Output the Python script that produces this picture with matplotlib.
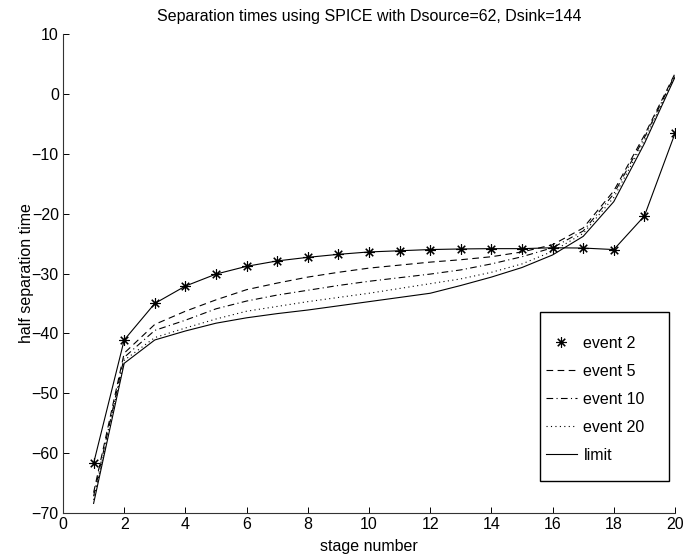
import matplotlib
matplotlib.use("Agg")
import matplotlib.pyplot as plt
from matplotlib.patches import Rectangle

plt.rcParams['font.family'] = ['Liberation Sans', 'DejaVu Sans']

stage = list(range(1, 21))
event2 = [-61.7, -41.1, -35.0, -32.1, -30.1, -28.8, -27.9, -27.3, -26.8, -26.4,
          -26.2, -26.0, -25.9, -25.85, -25.85, -25.7, -25.75, -26.0, -20.4, -6.6]
event5 = [-66.6, -43.3, -38.5, -36.3, -34.4, -32.7, -31.6, -30.6, -29.8, -29.1,
          -28.6, -28.1, -27.7, -27.2, -26.4, -25.2, -22.4, -16.2, -6.9, 3.4]
event10 = [-67.2, -44.0, -39.5, -37.8, -35.9, -34.6, -33.6, -32.8, -32.0, -31.3,
           -30.7, -30.1, -29.4, -28.4, -27.2, -25.7, -22.9, -16.7, -7.3, 3.2]
event20 = [-67.8, -44.5, -40.7, -39.1, -37.6, -36.3, -35.5, -34.7, -34.0, -33.3,
           -32.5, -31.7, -30.9, -29.8, -28.4, -26.3, -23.3, -17.3, -7.8, 3.0]
limit = [-68.4, -45.0, -41.1, -39.6, -38.3, -37.4, -36.7, -36.1, -35.4, -34.7,
         -34.0, -33.3, -32.0, -30.6, -29.0, -26.9, -23.8, -18.0, -8.3, 2.8]

xticks = list(range(0, 21, 2))
yticks = list(range(-70, 11, 10))

FS = 11.5
fig = plt.figure(figsize=(7.0, 5.59), dpi=100)
ax = fig.add_axes([63/700, 1-513/559, 612/700, 479/559])

lw = 0.8
ax.plot(stage, event2, color='black', lw=lw)
ax.plot(stage, event2, linestyle='none', marker=(8, 2, 0), markersize=7.5,
        markeredgewidth=0.8, color='black', label='event 2')
ax.plot(stage, event5, color='black', lw=lw, linestyle=(0, (6, 4)), label='event 5')
ax.plot(stage, event10, color='black', lw=lw, linestyle=(0, (6, 3, 1, 3)), label='event 10')
ax.plot(stage, event20, color='black', lw=lw, linestyle=(0, (1, 3)), label='event 20')
ax.plot(stage, limit, color='black', lw=lw, label='limit')

ax.set_xlim(0, 20)
ax.set_ylim(-70, 10)
ax.set_xticks(xticks)
ax.set_yticks(yticks)
ax.tick_params(direction='in', length=4, width=0.7, labelsize=FS, colors='black', pad=3)
ax.spines['top'].set_visible(False)
ax.spines['right'].set_visible(False)
for s in ('left', 'bottom'):
    ax.spines[s].set_linewidth(0.8)
    ax.spines[s].set_color('#333333')

ax.set_title('Separation times using SPICE with Dsource=62, Dsink=144', fontsize=FS, pad=9.5)
ax.set_xlabel('stage number', fontsize=FS, labelpad=5)
ax.set_ylabel('half separation time', fontsize=FS, labelpad=-1.5)

# legend box (MATLAB style: tight left padding, tall rows)
box = Rectangle((0.779, 0.0668), 0.990 - 0.779, 0.4196 - 0.0668,
                transform=ax.transAxes, facecolor='white', edgecolor='black',
                linewidth=1.0, zorder=4)
ax.add_patch(box)
leg = ax.legend(loc='upper left', bbox_to_anchor=(0.789, 0.370), fontsize=FS,
                frameon=False, borderpad=0, labelspacing=0.81,
                handlelength=1.95, handletextpad=0.4, borderaxespad=0)
leg.set_zorder(5)

fig.savefig('out.png', dpi=100)
